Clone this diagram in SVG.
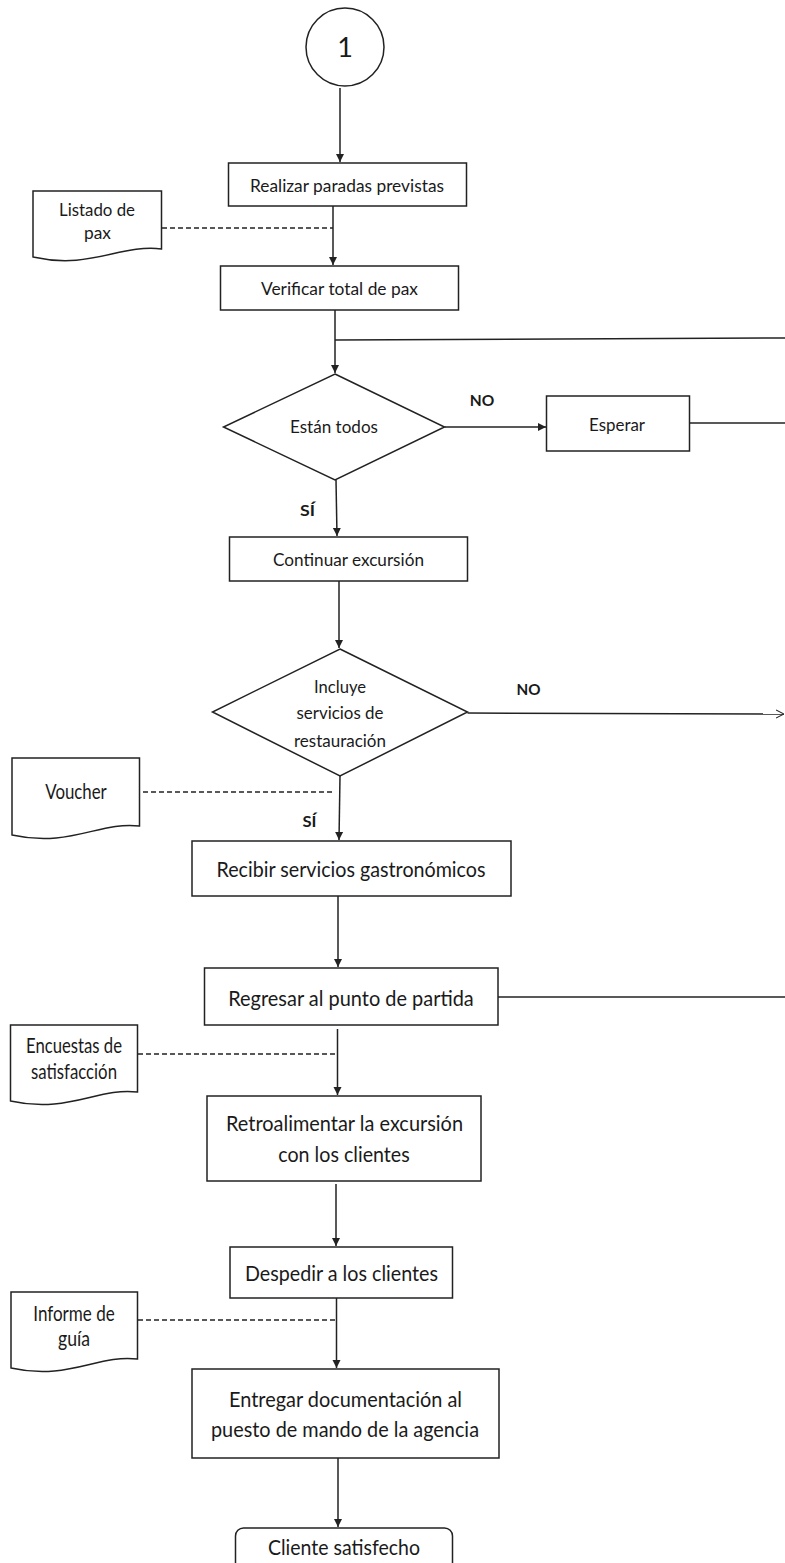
<svg xmlns="http://www.w3.org/2000/svg" width="785" height="1563" viewBox="0 0 785 1563">
<style>
.shape{fill:#fff;stroke:#222;stroke-width:1.5}
.ln{fill:none;stroke:#222;stroke-width:1.5}
.dash{fill:none;stroke:#222;stroke-width:1.5;stroke-dasharray:5 3}
text{font-family:Lato,"Liberation Sans",sans-serif;fill:#1a1a1a;text-anchor:middle}
.s{font-size:17px}
.l{font-size:21px}
.b{font-size:16px;font-weight:bold}
</style>
<defs>
<marker id="arr" viewBox="0 0 10 10" refX="10" refY="5" markerWidth="8" markerHeight="10" markerUnits="userSpaceOnUse" orient="auto">
<path d="M0,0 L10,5 L0,10 z" fill="#222"/>
</marker>
<marker id="open" viewBox="0 0 10 10" refX="10" refY="5" markerWidth="8" markerHeight="10" markerUnits="userSpaceOnUse" orient="auto">
<path d="M0,0 L10,5 L0,10" fill="none" stroke="#222" stroke-width="1.3"/>
</marker>
</defs>

<g id="connectors">
<line class="ln" x1="340" y1="88" x2="340" y2="162" marker-end="url(#arr)"/>
<line class="ln" x1="333" y1="206" x2="333" y2="265" marker-end="url(#arr)"/>
<line class="dash" x1="162" y1="228" x2="333" y2="228"/>
<line class="ln" x1="335" y1="310" x2="335" y2="373" marker-end="url(#arr)"/>
<line class="ln" x1="335" y1="340" x2="785" y2="338"/>
<line class="ln" x1="444.5" y1="427" x2="546" y2="427" marker-end="url(#arr)"/>
<line class="ln" x1="689.5" y1="423" x2="785" y2="423"/>
<line class="ln" x1="336" y1="480" x2="337" y2="536" marker-end="url(#arr)"/>
<line class="ln" x1="339" y1="581" x2="339" y2="648" marker-end="url(#arr)"/>
<line class="ln" x1="467.5" y1="713" x2="784" y2="714" marker-end="url(#open)"/>
<line class="dash" x1="143" y1="792" x2="334" y2="792"/>
<line class="ln" x1="340" y1="776" x2="339" y2="840" marker-end="url(#arr)"/>
<line class="ln" x1="338" y1="896" x2="338" y2="967" marker-end="url(#arr)"/>
<line class="ln" x1="498" y1="997" x2="785" y2="997"/>
<line class="ln" x1="337.5" y1="1029" x2="337.5" y2="1095" marker-end="url(#arr)"/>
<line class="dash" x1="138" y1="1054" x2="336" y2="1054"/>
<line class="ln" x1="336" y1="1184" x2="336" y2="1246" marker-end="url(#arr)"/>
<line class="ln" x1="336.5" y1="1298" x2="336.5" y2="1368" marker-end="url(#arr)"/>
<line class="dash" x1="138" y1="1320" x2="336" y2="1320"/>
<line class="ln" x1="338" y1="1458" x2="338" y2="1527" marker-end="url(#arr)"/>
</g>

<g id="n-start">
<circle class="shape" cx="345" cy="47" r="39"/>
<text x="345" y="57" style="font-size:27px">1</text>
</g>

<g id="n-realizar">
<rect class="shape" x="228.5" y="163" width="238" height="43"/>
<text class="s" x="347" y="192" textLength="194" lengthAdjust="spacingAndGlyphs">Realizar paradas previstas</text>
</g>

<g id="d-listado">
<path class="shape" d="M33,191 H161.5 V249 C120,244 90,270 33,257 Z"/>
<text class="s" x="97" y="216" textLength="76" lengthAdjust="spacingAndGlyphs">Listado de</text>
<text class="s" x="97.5" y="239" textLength="27" lengthAdjust="spacingAndGlyphs">pax</text>
</g>

<g id="n-verificar">
<rect class="shape" x="220.5" y="266" width="238" height="44"/>
<text class="s" x="339.5" y="295" textLength="157" lengthAdjust="spacingAndGlyphs">Verificar total de pax</text>
</g>

<g id="n-estan">
<path class="shape" d="M335,374 L444.5,427 L335,480 L223.5,427 Z"/>
<text class="s" x="334" y="433" textLength="88" lengthAdjust="spacingAndGlyphs">Están todos</text>
</g>
<text class="b" x="482" y="406" textLength="24.5" lengthAdjust="spacingAndGlyphs">NO</text>
<text class="b" x="307.5" y="516" textLength="15" lengthAdjust="spacingAndGlyphs">SÍ</text>

<g id="n-esperar">
<rect class="shape" x="546.5" y="396" width="143" height="55"/>
<text class="s" x="617" y="431" textLength="56" lengthAdjust="spacingAndGlyphs">Esperar</text>
</g>

<g id="n-continuar">
<rect class="shape" x="229.5" y="537" width="238" height="44"/>
<text class="s" x="348.5" y="566" textLength="151" lengthAdjust="spacingAndGlyphs">Continuar excursión</text>
</g>

<g id="n-incluye">
<path class="shape" d="M340,649 L467.5,712 L340,776 L212.5,712 Z"/>
<text class="s" x="340" y="693" textLength="52" lengthAdjust="spacingAndGlyphs">Incluye</text>
<text class="s" x="340" y="719" textLength="87" lengthAdjust="spacingAndGlyphs">servicios de</text>
<text class="s" x="340" y="747" textLength="92" lengthAdjust="spacingAndGlyphs">restauración</text>
</g>
<text class="b" x="528.5" y="695" textLength="24" lengthAdjust="spacingAndGlyphs">NO</text>
<text class="b" x="309.5" y="827" textLength="14" lengthAdjust="spacingAndGlyphs">SÍ</text>

<g id="d-voucher">
<path class="shape" d="M12,758 H139.5 V826 C100,821 70,848 12,835 Z"/>
<text class="l" x="76" y="799" textLength="61.5" lengthAdjust="spacingAndGlyphs">Voucher</text>
</g>

<g id="n-recibir">
<rect class="shape" x="192" y="841" width="319" height="55"/>
<text class="l" x="351" y="877" textLength="269" lengthAdjust="spacingAndGlyphs">Recibir servicios gastronómicos</text>
</g>

<g id="n-regresar">
<rect class="shape" x="204.5" y="968" width="293.5" height="57"/>
<text class="l" x="351" y="1006" textLength="245.5" lengthAdjust="spacingAndGlyphs">Regresar al punto de partida</text>
</g>

<g id="d-encuestas">
<path class="shape" d="M10.5,1025 H137.5 V1092 C98,1087 68,1114 10.5,1101 Z"/>
<text class="l" x="74" y="1053" textLength="96" lengthAdjust="spacingAndGlyphs">Encuestas de</text>
<text class="l" x="74" y="1079" textLength="86" lengthAdjust="spacingAndGlyphs">satisfacción</text>
</g>

<g id="n-retro">
<rect class="shape" x="207" y="1096" width="274" height="85"/>
<text class="l" x="344.5" y="1131" textLength="237" lengthAdjust="spacingAndGlyphs">Retroalimentar la excursión</text>
<text class="l" x="344" y="1162" textLength="131.5" lengthAdjust="spacingAndGlyphs">con los clientes</text>
</g>

<g id="n-despedir">
<rect class="shape" x="230" y="1247" width="222.5" height="51"/>
<text class="l" x="341.5" y="1281" textLength="193" lengthAdjust="spacingAndGlyphs">Despedir a los clientes</text>
</g>

<g id="d-informe">
<path class="shape" d="M11,1292 H137.5 V1359 C98,1354 68,1381 11,1368 Z"/>
<text class="l" x="74" y="1321" textLength="81.5" lengthAdjust="spacingAndGlyphs">Informe de</text>
<text class="l" x="74" y="1346" textLength="32" lengthAdjust="spacingAndGlyphs">guía</text>
</g>

<g id="n-entregar">
<rect class="shape" x="192" y="1369" width="307" height="89"/>
<text class="l" x="345.5" y="1407" textLength="233" lengthAdjust="spacingAndGlyphs">Entregar documentación al</text>
<text class="l" x="345" y="1437" textLength="268" lengthAdjust="spacingAndGlyphs">puesto de mando de la agencia</text>
</g>

<g id="n-cliente">
<rect class="shape" x="235.5" y="1528" width="217" height="50" rx="8"/>
<text class="l" x="344" y="1555" textLength="152" lengthAdjust="spacingAndGlyphs">Cliente satisfecho</text>
</g>
</svg>
